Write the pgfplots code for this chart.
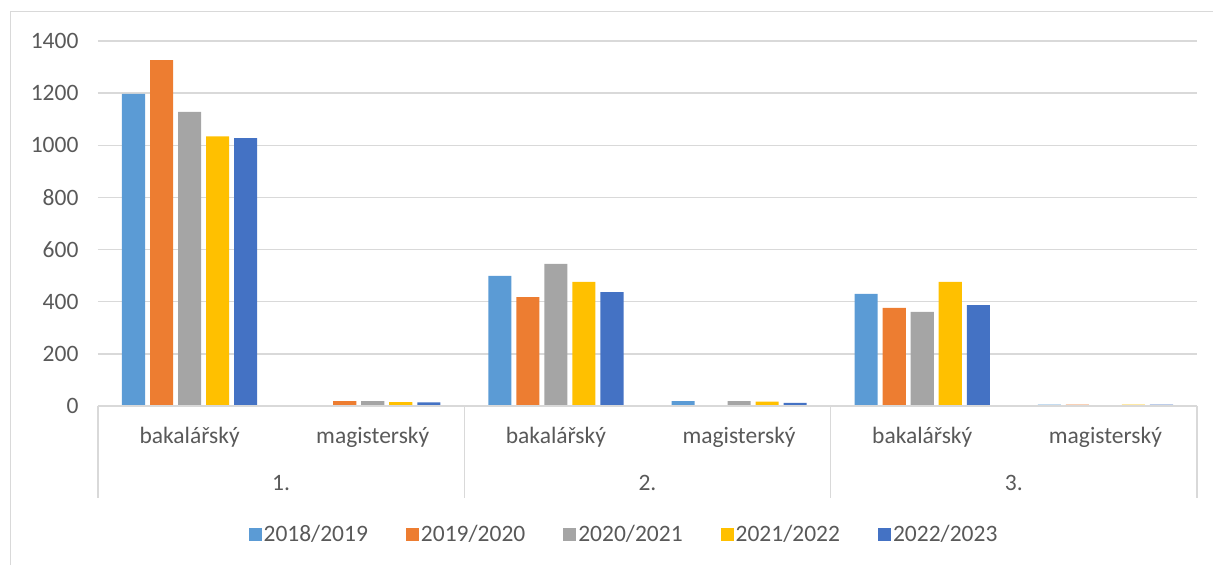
\documentclass[border=0pt]{standalone}
\usepackage{pgfplots}
\pgfplotsset{compat=1.18}
\usepackage{fontspec}
\setmainfont{Carlito}
\definecolor{cA}{HTML}{5B9BD5}
\definecolor{cB}{HTML}{ED7D31}
\definecolor{cC}{HTML}{A5A5A5}
\definecolor{cD}{HTML}{FFC000}
\definecolor{cE}{HTML}{4472C4}
\definecolor{gridc}{HTML}{D9D9D9}
\definecolor{labc}{HTML}{595959}
\newcommand{\lf}{\fontsize{23.5}{28}\selectfont}
\begin{document}
\begin{tikzpicture}[x=1pt,y=1pt]
\useasboundingbox (0,0) rectangle (1213,565);
\draw[gridc, line width=1.5pt] (10.5,0) -- (10.5,553.5) -- (1213,553.5);
\begin{axis}[
  at={(98pt,159pt)}, anchor=south west,
  scale only axis, width=1099pt, height=365pt,
  xmin=-0.5, xmax=5.5, ymin=0, ymax=1400,
  clip=false,
  ybar, bar width=0.126,
  axis line style={draw=none},
  major tick length=0pt,
  ymajorgrids, grid style={gridc, line width=1.3pt},
  ytick={0,200,...,1400},
  /pgf/number format/assume math mode=true,
  /pgf/number format/1000 sep={},
  xtick={0,...,5},
  xticklabels={bakalářský,magisterský,bakalářský,magisterský,bakalářský,magisterský},
  tick label style={font=\lf, text=labc},
  yticklabel style={anchor=east, xshift=-16pt},
  xticklabel style={anchor=base, yshift=-37pt},
  legend style={at={(0.4786,-0.3507)}, anchor=center, legend columns=5, draw=none,
    font=\lf, text=labc, inner sep=0pt,
    /tikz/every even column/.append style={column sep=36pt}},
  legend image code/.code={\fill[#1] (0pt,-6.5pt) rectangle (13pt,6.5pt);},
]
\addplot[fill=cA, draw=none, bar shift=-0.306] coordinates {(0,1197) (2,499) (3,19) (4,430) (5,5)};
\addplot[fill=cB, draw=none, bar shift=-0.153] coordinates {(0,1327) (1,19) (2,418) (4,376) (5,5)};
\addplot[fill=cC, draw=none, bar shift=0] coordinates {(0,1128) (1,19) (2,545) (3,19) (4,361)};
\addplot[fill=cD, draw=none, bar shift=0.153] coordinates {(0,1034) (1,15) (2,476) (3,17) (4,476) (5,5)};
\addplot[fill=cE, draw=none, bar shift=0.306] coordinates {(0,1027) (1,14) (2,437) (3,12) (4,387) (5,5)};
\legend{2018/2019,2019/2020,2020/2021,2021/2022,2022/2023}
\draw[gridc, line width=1.3pt] (axis cs:-0.5,0) -- (axis cs:5.5,0);
\draw[gridc, line width=1.3pt] (axis cs:-0.5,0) -- ++(0pt,-92pt);
\draw[gridc, line width=1.3pt] (axis cs:1.5,0) -- ++(0pt,-92pt);
\draw[gridc, line width=1.3pt] (axis cs:3.5,0) -- ++(0pt,-92pt);
\draw[gridc, line width=1.3pt] (axis cs:5.5,0) -- ++(0pt,-92pt);
\node[font=\lf, text=labc, anchor=base] at ([yshift=-84pt]axis cs:0.5,0) {1.};
\node[font=\lf, text=labc, anchor=base] at ([yshift=-84pt]axis cs:2.5,0) {2.};
\node[font=\lf, text=labc, anchor=base] at ([yshift=-84pt]axis cs:4.5,0) {3.};
\end{axis}
\end{tikzpicture}
\end{document}
